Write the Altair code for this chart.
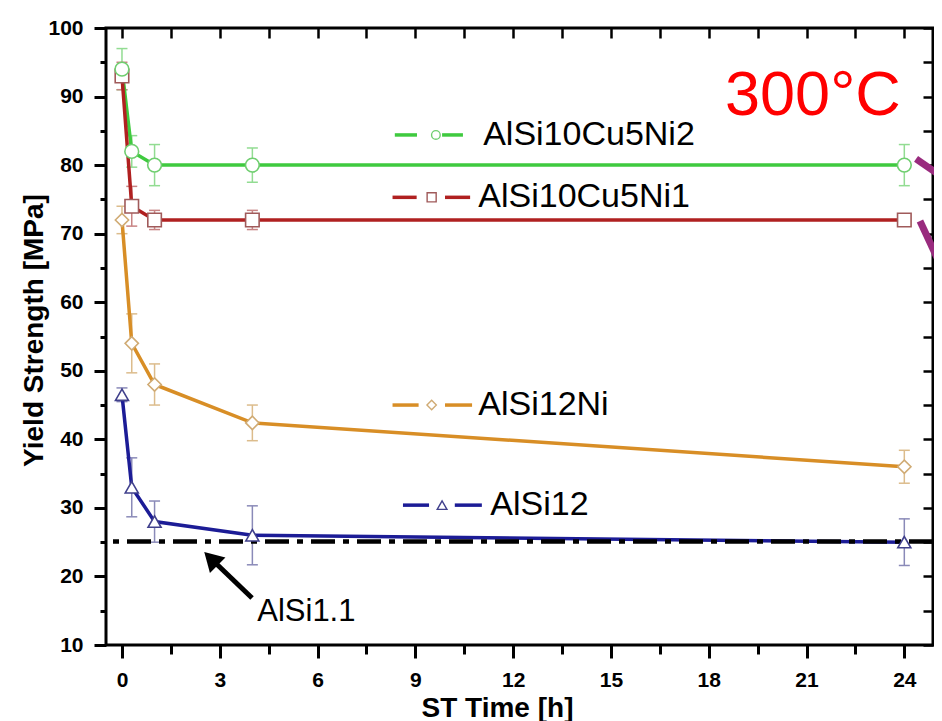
import altair as alt
import pandas as pd

# ---------------- data ----------------
series_names = ["AlSi10Cu5Ni2", "AlSi10Cu5Ni1", "AlSi12Ni", "AlSi12"]
st_time = [0, 0.3, 1, 4, 24]
ys_ni2 = [94, 82, 80, 80, 80]
err_ni2 = [3, 2.3, 3, 2.5, 3]
ys_ni1 = [93, 74, 72, 72, 72]
err_ni1 = [2, 2.9, 1.4, 1.4, 0.5]
ys_12ni = [72, 54, 48, 42.4, 36]
err_12ni = [2, 4.3, 3, 2.6, 2.4]
ys_12 = [46.5, 33, 28, 26, 25]
err_12 = [1, 4.3, 3, 4.3, 3.4]
alsi11_level = 25.1

x_tick_values = [0, 1.5, 3, 4.5, 6, 7.5, 9, 10.5, 12, 13.5, 15, 16.5, 18, 19.5, 21, 22.5, 24]
y_tick_values = [10, 15, 20, 25, 30, 35, 40, 45, 50, 55, 60, 65, 70, 75, 80, 85, 90, 95, 100]

# styles
line_colors = ["#3fca3f", "#b02020", "#d88e26", "#1c1c96"]
marker_colors = ["#6fce6f", "#a05a5a", "#d0ab74", "#40408c"]
err_colors = ["#92dc92", "#c88484", "#dcbc8c", "#8a8ab8"]
shapes = ["circle", "square", "diamond", "triangle-up"]
sizes = [190, 170, 320, 380]
legend_sizes = [75, 95, 170, 170]

# inline legend placement (data coords)
leg_y = [84.4, 75.3, 45.0, 30.4]
leg_seg1 = [(8.37, 9.05), (8.30, 9.04), (8.30, 9.10), (8.62, 9.42)]
leg_seg2 = [(9.82, 10.46), (9.91, 10.68), (9.91, 10.74), (10.21, 11.04)]
leg_mark = [9.63, 9.50, 9.50, 9.82]
leg_text = [11.08, 10.93, 10.93, 11.30]

FONT = "Liberation Sans"

# ---------------- tables ----------------
rows = []
for name, ys, es in zip(series_names, [ys_ni2, ys_ni1, ys_12ni, ys_12],
                        [err_ni2, err_ni1, err_12ni, err_12]):
    for t, y, e in zip(st_time, ys, es):
        rows.append({"series": name, "t": t, "y": y, "lo": y - e, "hi": y + e})
df = pd.DataFrame(rows)
df_marks = df.iloc[::-1].reset_index(drop=True)  # first series drawn on top
caps = pd.concat([
    df[["series", "t", "lo"]].rename(columns={"lo": "v"}),
    df[["series", "t", "hi"]].rename(columns={"hi": "v"}),
])

seg_rows, mk_rows, tx_rows = [], [], []
for i, name in enumerate(series_names):
    for (a, b) in (leg_seg1[i], leg_seg2[i]):
        seg_rows.append({"series": name, "x": a, "x2": b, "y": leg_y[i]})
    mk_rows.append({"series": name, "x": leg_mark[i], "y": leg_y[i]})
    tx_rows.append({"series": name, "x": leg_text[i], "y": leg_y[i], "label": name})
seg_df = pd.DataFrame(seg_rows)
mk_df = pd.DataFrame(mk_rows)
tx_df = pd.DataFrame(tx_rows)

xs = alt.Scale(domain=[-0.49, 24.88], nice=False, zero=False)
ys_ = alt.Scale(domain=[10, 100], nice=False, zero=False)

c_line = alt.Color("series:N", scale=alt.Scale(domain=series_names, range=line_colors), legend=None)
c_err = alt.Color("series:N", scale=alt.Scale(domain=series_names, range=err_colors), legend=None)
s_mark = alt.Stroke("series:N", scale=alt.Scale(domain=series_names, range=marker_colors), legend=None)
shp = alt.Shape("series:N", scale=alt.Scale(domain=series_names, range=shapes), legend=None)


def X(f):
    return alt.X(f, type="quantitative", scale=xs, axis=None)


def Y(f):
    return alt.Y(f, type="quantitative", scale=ys_, axis=None)


base = alt.Chart(df)

err_rules = base.mark_rule(strokeWidth=1.5).encode(x=X("t"), y=Y("lo"), y2="hi", color=c_err)
err_caps = alt.Chart(caps).mark_point(shape="stroke", size=121, strokeWidth=1.5, filled=False, opacity=1).encode(
    x=X("t"), y=Y("v"), color=c_err)
lines = base.mark_line(strokeWidth=3.5).encode(
    x=X("t"), y=Y("y"), color=c_line, detail="series:N")
ref_line = alt.Chart(pd.DataFrame({"y": [alsi11_level]})).mark_rule(
    color="black", strokeWidth=4.5, strokeDash=[24, 8, 6, 8]).encode(y=Y("y"))
markers = alt.Chart(df_marks).mark_point(filled=True, fill="white", strokeWidth=1.6, opacity=1).encode(
    x=X("t"), y=Y("y"), stroke=s_mark, shape=shp,
    size=alt.Size("series:N", scale=alt.Scale(domain=series_names, range=sizes), legend=None))

leg_lines = alt.Chart(seg_df).mark_rule(strokeWidth=3.5).encode(
    x=X("x"), x2="x2", y=Y("y"), color=c_line)
leg_marks = alt.Chart(mk_df).mark_point(filled=True, fill="white", strokeWidth=1.4, opacity=1).encode(
    x=X("x"), y=Y("y"), stroke=s_mark, shape=shp,
    size=alt.Size("series:N", scale=alt.Scale(domain=series_names, range=legend_sizes), legend=None))
leg_text_layer = alt.Chart(tx_df).mark_text(
    align="left", baseline="middle", font=FONT, fontSize=34, color="black").encode(
    x=X("x"), y=Y("y"), text="label:N")

temp_text = alt.Chart(pd.DataFrame({"x": [18.5], "y": [87.3], "label": ["300°C"]})).mark_text(
    align="left", baseline="alphabetic", font=FONT, fontSize=63, color="#ff0000").encode(
    x=X("x"), y=Y("y"), text="label:N")
alsi_text = alt.Chart(pd.DataFrame({"x": [4.15], "y": [14.75], "label": ["AlSi1.1"]})).mark_text(
    align="left", baseline="middle", font=FONT, fontSize=31, color="black").encode(
    x=X("x"), y=Y("y"), text="label:N")

arrow_line = alt.Chart(pd.DataFrame({"x": [3.99], "x2": [2.75], "y": [16.86], "y2": [22.5]})).mark_rule(
    color="black", strokeWidth=5).encode(x=X("x"), x2="x2", y=Y("y"), y2="y2")
arrow_head = alt.Chart(pd.DataFrame({"x": [2.73], "y": [22.6]})).mark_point(
    shape="triangle-up", filled=True, color="black", size=480, angle=315, opacity=1).encode(
    x=X("x"), y=Y("y"))

mag = pd.DataFrame({"x": [24.36, 24.48], "x2": [25.15, 25.15], "y": [80.9, 71.85], "y2": [78.3, 65.0]})
mag_lines = alt.Chart(mag).mark_rule(color="#992b7e", strokeWidth=7, clip=False).encode(
    x=X("x"), x2="x2", y=Y("y"), y2="y2")

axis_main = base.mark_point(opacity=0).encode(
    x=alt.X("t:Q", scale=xs, axis=alt.Axis(
        orient="bottom", values=x_tick_values, domain=False, grid=False,
        tickColor="black", tickWidth=3,
        tickSize={"condition": {"test": "datum.value % 3 === 0", "value": 13}, "value": 9},
        labelExpr="datum.value % 3 === 0 ? format(datum.value, 'd') : ''",
        labelFont=FONT, labelFontWeight="bold", labelFontSize=21, labelColor="black",
        labelPadding=11, labelFlush=False, labelOverlap=False,
        title="ST Time [h]", titleFont=FONT, titleFontSize=28, titleFontWeight="bold",
        titleColor="black", titleX=391, titleY=71, titleBaseline="alphabetic", titleAlign="center")),
    y=alt.Y("y:Q", scale=ys_, axis=alt.Axis(
        orient="left", values=y_tick_values, domain=False, grid=False,
        tickColor="black", tickWidth=3,
        tickSize={"condition": {"test": "datum.value % 10 === 0", "value": 12}, "value": 6},
        labelExpr="datum.value % 10 === 0 ? datum.label : ''",
        labelFont=FONT, labelFontWeight="bold", labelFontSize=21, labelColor="black",
        labelPadding=11, labelFlush=False, labelOverlap=False,
        title="Yield Strength [MPa]", titleFont=FONT, titleFontSize=28, titleFontWeight="bold",
        titleColor="black", titleX=-64, titleY=302, titleBaseline="alphabetic", titleAlign="center",
        titleAngle=270)),
)
axis_mirror = base.mark_point(opacity=0).encode(
    x=alt.X("t:Q", scale=xs, axis=alt.Axis(
        orient="top", values=x_tick_values, domain=False, grid=False, labels=False,
        tickColor="black", tickWidth=2.5, tickSize=10, offset=-10, title=None)),
    y=alt.Y("y:Q", scale=ys_, axis=alt.Axis(
        orient="right", values=y_tick_values, domain=False, grid=False, labels=False,
        tickColor="black", tickWidth=2.5, tickSize=10, offset=-10, title=None)),
)

chart = alt.layer(
    axis_main, axis_mirror,
    err_rules, err_caps, lines, ref_line, markers,
    leg_lines, leg_marks, leg_text_layer,
    temp_text, alsi_text, arrow_line, arrow_head, mag_lines,
).resolve_axis(x="independent", y="independent").resolve_scale(
    color="independent", stroke="independent", size="independent", shape="independent"
).properties(
    width=827, height=617,
    padding={"left": 98, "top": 20, "right": 1, "bottom": 76},
    autosize=alt.AutoSizeParams(type="none"),
    background="white",
).configure_view(stroke="black", strokeWidth=3)

chart.save("out.html", embed_options={"renderer": "svg", "actions": False})
